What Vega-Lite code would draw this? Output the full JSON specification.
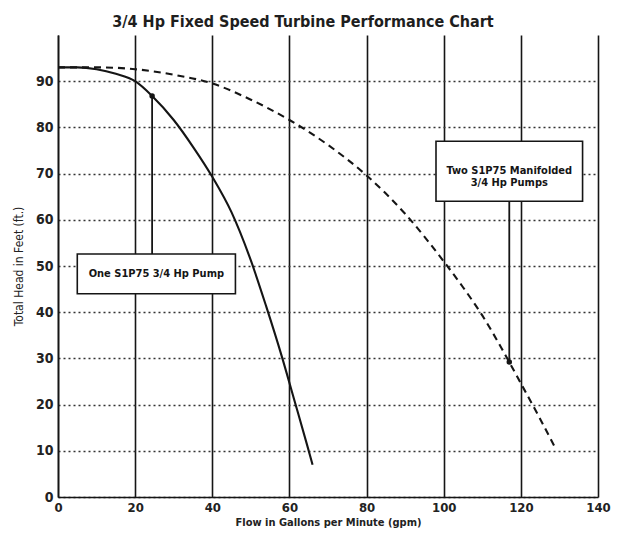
{
  "$schema": "https://vega.github.io/schema/vega-lite/v6.json",
  "width": 540,
  "height": 462,
  "autosize": {"type": "none"},
  "padding": {"left": 58, "top": 35, "right": 20, "bottom": 38},
  "background": "white",
  "config": {"view": {"stroke": null}, "font": "DejaVu Sans Condensed"},
  "title": {"text": "3/4 Hp Fixed Speed Turbine Performance Chart", "fontSize": 16, "fontWeight": "bold", "anchor": "middle", "offset": 5, "dx": -25, "color": "#1e1e1e", "font": "DejaVu Sans Condensed"},
  "datasets": {
    "curves": [
      {"series": "one", "ord": 1, "flow": 0, "head": 93},
      {"series": "one", "ord": 2, "flow": 5, "head": 93},
      {"series": "one", "ord": 3, "flow": 10, "head": 92.6},
      {"series": "one", "ord": 4, "flow": 15, "head": 91.6},
      {"series": "one", "ord": 5, "flow": 20, "head": 90},
      {"series": "one", "ord": 6, "flow": 24.4, "head": 86.8},
      {"series": "one", "ord": 7, "flow": 30, "head": 81.6},
      {"series": "one", "ord": 8, "flow": 35, "head": 75.8},
      {"series": "one", "ord": 9, "flow": 40, "head": 69.3},
      {"series": "one", "ord": 10, "flow": 45, "head": 61.6},
      {"series": "one", "ord": 11, "flow": 50, "head": 51.2},
      {"series": "one", "ord": 12, "flow": 54, "head": 41.2},
      {"series": "one", "ord": 13, "flow": 58, "head": 30.5},
      {"series": "one", "ord": 14, "flow": 61.5, "head": 20.3},
      {"series": "one", "ord": 15, "flow": 64.5, "head": 11.5},
      {"series": "one", "ord": 16, "flow": 66, "head": 7},
      {"series": "two", "ord": 1, "flow": 0, "head": 93},
      {"series": "two", "ord": 2, "flow": 10, "head": 93},
      {"series": "two", "ord": 3, "flow": 20, "head": 92.6},
      {"series": "two", "ord": 4, "flow": 30, "head": 91.4},
      {"series": "two", "ord": 5, "flow": 40, "head": 89.5},
      {"series": "two", "ord": 6, "flow": 50, "head": 86},
      {"series": "two", "ord": 7, "flow": 60, "head": 81.6},
      {"series": "two", "ord": 8, "flow": 70, "head": 76.2},
      {"series": "two", "ord": 9, "flow": 80, "head": 69.6},
      {"series": "two", "ord": 10, "flow": 90, "head": 61.3},
      {"series": "two", "ord": 11, "flow": 100, "head": 51},
      {"series": "two", "ord": 12, "flow": 105, "head": 45.4},
      {"series": "two", "ord": 13, "flow": 110, "head": 39.3},
      {"series": "two", "ord": 14, "flow": 115, "head": 32.2},
      {"series": "two", "ord": 15, "flow": 120, "head": 24.6},
      {"series": "two", "ord": 16, "flow": 125, "head": 16.9},
      {"series": "two", "ord": 17, "flow": 129, "head": 10.5}
    ],
    "markers": [
      {"flow": 24.4, "head": 86.8, "top": 52.6},
      {"flow": 117, "head": 29.2, "top": 64}
    ],
    "boxes": [
      {"x1": 5, "x2": 46, "y1": 44, "y2": 52.6, "cx": 25.5, "cy": 48.3, "label": "One S1P75 3/4 Hp Pump"},
      {"x1": 98, "x2": 136, "y1": 64, "y2": 77, "cx": 117, "cy": 70.5, "label": "Two S1P75 Manifolded\n3/4 Hp Pumps"}
    ]
  },
  "layer": [
    {
      "data": {"name": "curves"},
      "transform": [{"filter": "datum.series === 'one'"}],
      "mark": {"type": "line", "color": "#151515", "strokeWidth": 2.1, "interpolate": "monotone"},
      "encoding": {
        "x": {"field": "flow", "type": "quantitative",
          "scale": {"domain": [0, 140], "nice": false, "zero": false},
          "axis": {"values": [0, 20, 40, 60, 80, 100, 120, 140], "grid": true, "gridColor": "#151515", "gridWidth": 1.6,
            "domainColor": "#151515", "domainWidth": 1.6, "ticks": false, "labelFontSize": 13, "labelFontWeight": "bold",
            "labelColor": "#222", "labelPadding": 4, "labelDx": 5, "labelFlush": false, "labelFont": "DejaVu Sans Condensed",
            "title": "Flow in Gallons per Minute (gpm)", "titleFontSize": 11, "titleFontWeight": "bold", "titleColor": "#222",
            "titlePadding": 2, "titleFont": "DejaVu Sans Condensed"}},
        "y": {"field": "head", "type": "quantitative",
          "scale": {"domain": [0, 100], "nice": false},
          "axis": {"values": [0, 10, 20, 30, 40, 50, 60, 70, 80, 90], "grid": true, "gridColor": "#333", "gridWidth": 1.6,
            "gridDash": [2, 3], "domainColor": "#151515", "domainWidth": 1.6, "ticks": false, "labelFontSize": 14,
            "labelFontWeight": "bold", "labelColor": "#222", "labelPadding": 5, "labelFont": "DejaVu Sans Condensed",
            "title": "Total Head in Feet (ft.)", "titleFontSize": 12, "titleFontWeight": "normal", "titleColor": "#222",
            "titlePadding": 10, "titleFont": "DejaVu Sans Condensed"}},
        "order": {"field": "ord", "type": "quantitative"}
      }
    },
    {
      "data": {"name": "curves"},
      "transform": [{"filter": "datum.series === 'two'"}],
      "mark": {"type": "line", "color": "#151515", "strokeWidth": 2.1, "strokeDash": [7, 5], "interpolate": "monotone"},
      "encoding": {
        "x": {"field": "flow", "type": "quantitative"},
        "y": {"field": "head", "type": "quantitative"},
        "order": {"field": "ord", "type": "quantitative"}
      }
    },
    {
      "data": {"name": "markers"},
      "mark": {"type": "rule", "color": "#151515", "strokeWidth": 1.8},
      "encoding": {
        "x": {"field": "flow", "type": "quantitative"},
        "y": {"field": "head", "type": "quantitative"},
        "y2": {"field": "top"}
      }
    },
    {
      "data": {"name": "markers"},
      "mark": {"type": "point", "filled": true, "color": "#151515", "size": 30, "opacity": 1},
      "encoding": {
        "x": {"field": "flow", "type": "quantitative"},
        "y": {"field": "head", "type": "quantitative"}
      }
    },
    {
      "data": {"name": "boxes"},
      "mark": {"type": "rect", "fill": "white", "stroke": "#151515", "strokeWidth": 1.6},
      "encoding": {
        "x": {"field": "x1", "type": "quantitative"},
        "x2": {"field": "x2"},
        "y": {"field": "y1", "type": "quantitative"},
        "y2": {"field": "y2"}
      }
    },
    {
      "data": {"name": "boxes"},
      "mark": {"type": "text", "font": "DejaVu Sans Condensed", "fontWeight": "bold", "fontSize": 11, "color": "#151515",
        "align": "center", "baseline": "middle", "lineBreak": "\n", "lineHeight": 12},
      "encoding": {
        "x": {"field": "cx", "type": "quantitative"},
        "y": {"field": "cy", "type": "quantitative"},
        "text": {"field": "label"}
      }
    }
  ]
}
